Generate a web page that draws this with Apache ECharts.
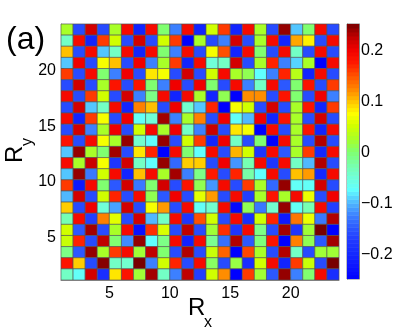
<!DOCTYPE html>
<html><head><meta charset="utf-8">
<style>html,body{margin:0;padding:0;background:#fff}#c{width:407px;height:332px}</style>
<script src="https://cdn.jsdelivr.net/npm/echarts@6/dist/echarts.min.js"></script>
</head><body><div id="c"></div>
<script>
// Rows of the map, top (Ry = 23..24) to bottom (Ry = 1..2)
const row23=[.025,-.16,.215,-.16,.025,.19,-.205,.19,0,-.125,.19,-.205,.05,.16,-.205,.19,.025,-.16,.24,-.095,0,.19,-.16];
const row22=[-.04,.19,-.205,.16,.05,-.16,.215,-.16,.05,.16,-.25,.025,-.16,-.125,.215,-.16,.025,.19,-.205,.11,.08,-.16,.19];
const row21=[.1,-.16,.19,-.095,-.04,.19,-.205,.19,0,-.125,.19,-.16,.07,.15,-.205,.19,0,-.16,.19,-.04,-.16,.19,-.16];
const row20=[-.095,.2,-.16,.07,.1,-.16,.2,-.125,.025,.16,-.205,.19,-.05,-.04,.215,-.16,.025,.17,-.125,-.09,.025,-.25,.19];
const row19=[.16,-.16,.19,0,-.125,.2,-.16,.085,.07,-.16,.215,-.16,.05,.19,.025,.01,-.075,-.125,.17,.035,-.205,.19,-.16];
const row18=[-.16,.215,-.16,.025,.18,-.16,.18,0,-.125,.2,-.16,.2,0,-.16,.19,-.125,-.04,.19,-.15,0,.18,-.16,.16];
const row17=[.19,-.16,.16,.05,-.16,.215,-.125,-.01,.19,-.205,.19,.025,-.205,.01,-.25,.12,.12,-.16,.18,0,-.16,.2,-.125];
const row16=[-.16,.215,-.095,-.04,.19,-.205,.125,.1,-.16,.2,-.045,-.095,.17,-.25,.07,.05,-.16,.215,-.16,.025,.18,-.205,.16];
const row15=[.19,-.205,.16,.07,-.16,.2,-.07,-.05,.235,-.125,.025,.125,-.16,.2,-.07,-.1,.2,-.205,.18,.025,-.16,.215,-.16];
const row14=[-.16,.215,-.125,.025,.2,-.16,.05,.19,.025,.2,-.04,-.125,.22,-.16,.085,.07,-.25,.19,-.16,.025,.18,-.205,.19];
const row13=[.18,-.16,.19,.07,.025,.24,-.045,-.075,.24,-.16,.05,.16,-.205,.2,-.04,-.16,0,-.25,.19,.025,-.16,.23,-.16];
const row12=[-.095,.24,.025,0,.235,-.16,.085,.17,-.25,.19,0,-.075,.19,-.16,.105,.05,-.18,.19,-.15,.025,.16,-.2,.19];
const row11=[.19,.025,.22,.07,-.18,.215,-.04,-.075,.24,-.14,.095,.095,-.16,.2,-.115,-.03,.19,-.18,.19,-.04,-.1,.23,-.16];
const row10=[-.095,.24,-.13,.05,.19,-.205,.1,.19,.025,.235,-.125,-.01,.175,-.16,.17,-.025,-.075,.19,-.16,.1,.115,-.2,.19];
const row09=[.16,-.22,.19,0,-.15,.215,-.13,0,.215,-.16,.18,.01,-.115,.19,-.16,.16,.025,-.14,.24,-.07,-.07,.215,-.16];
const row08=[-.1,.215,-.16,.05,.17,-.16,.19,.01,-.15,.2,-.16,.06,.115,-.16,.19,-.17,.025,.18,.025,.19,.065,-.16,.2];
const row07=[.095,-.16,.2,-.05,-.11,.215,-.16,.07,.115,-.16,.19,-.07,-.045,.19,-.24,.01,-.13,-.045,.24,-.07,-.03,.19,-.17];
const row06=[-.03,.19,-.17,.125,.06,-.16,.215,-.1,-.04,.19,-.18,.15,.05,-.16,.19,-.19,.05,.17,-.22,.13,.065,-.13,.23];
const row05=[.05,-.15,.235,-.16,.025,.19,-.23,.165,.055,-.16,.225,-.16,.02,.165,-.18,.19,-.01,-.16,.235,-.18,.02,.25,-.25];
const row04=[.045,.17,-.16,.225,0,-.12,.24,-.075,-.01,.19,-.21,.19,-.015,-.135,.23,-.15,-.005,.18,-.25,.125,.01,-.15,.235];
const row03=[-.01,-.15,.24,.025,.16,.19,.02,.225,0,-.16,.23,-.16,.045,.14,-.25,.155,.025,-.16,.23,-.04,-.16,.02,.02];
const row02=[.18,.095,-.16,.245,-.04,-.045,.25,-.125,.05,.17,-.16,.19,.005,-.16,.015,-.19,.05,.19,-.205,.16,.045,-.16,.25];
const row01=[-.04,-.07,.215,-.19,.085,.18,.02,.235,-.04,-.125,.225,-.17,.05,.12,-.25,.16,.02,-.15,.24,-.125,0,.19,-.19];
const rowsTopDown=[row23,row22,row21,row20,row19,row18,row17,row16,row15,row14,row13,row12,row11,row10,row09,row08,row07,row06,row05,row04,row03,row02,row01];
const xTicks=[5,10,15,20];
const yTicks=[5,10,15,20];
const barTicks=[-0.2,-0.1,0,0.1,0.2];
const colourStops=['#0000ff','#0c14ff','#1428ff','#2038ff','#2c58ff','#3c80ff','#50b8ff','#60ffff','#70ffd8','#78ffa8','#80ff70','#a8ff28','#d0ff00','#ffff00','#ffc000','#ff8000','#ff5000','#ff1800','#f00000','#c00000','#780000'];
const vMin=-0.25,vMax=0.25,barLevels=64;

const cells=[];
rowsTopDown.forEach((row,r)=>row.forEach((v,c)=>cells.push([c+1,23-r,v])));
const step=(vMax-vMin)/barLevels;
const levels=[];
for(let i=0;i<barLevels;i++){const m=vMin+(i+.5)*step;levels.push([0,m,m]);}

const grey='#808080';
const font='"Liberation Sans",Arial,sans-serif';
const lab={fontFamily:font,fontSize:16,color:'#000'};
const fmt=v=>String(+(+v).toFixed(2)).replace('-','\u2212');

function cellItem(params,api){
  const p0=api.coord([api.value(0),api.value(1)]);
  const p1=api.coord([api.value(0)+1,api.value(1)+1]);
  return {type:'rect',shape:{x:p0[0],y:p1[1],width:p1[0]-p0[0],height:p0[1]-p1[1]},
    style:{fill:api.visual('color'),stroke:'rgba(80,80,80,0.6)',lineWidth:1}};
}
function barItem(params,api){
  const v=api.value(1);
  const p0=api.coord([0,v-step/2]);
  const p1=api.coord([1,v+step/2]);
  return {type:'rect',shape:{x:p0[0],y:p1[1],width:p1[0]-p0[0],height:p0[1]-p1[1]+0.5},
    style:{fill:api.visual('color')}};
}
const chart=echarts.init(document.getElementById('c'),null,{renderer:'canvas'});
chart.setOption({
  animation:false,
  backgroundColor:'#fff',
  grid:[
    {left:61,top:24,width:278,height:256,show:true,borderColor:grey,borderWidth:1,backgroundColor:'transparent'},
    {left:347,top:24,width:12,height:255,show:true,borderColor:grey,borderWidth:1,backgroundColor:'transparent'}
  ],
  visualMap:{show:false,min:vMin,max:vMax,dimension:2,seriesIndex:[0,1],inRange:{color:colourStops}},
  xAxis:[
    {gridIndex:0,type:'value',min:1,max:24,splitLine:{show:false},
      axisLine:{show:true,onZero:false,lineStyle:{color:grey}},
      axisTick:{show:true,inside:true,length:3,customValues:xTicks,lineStyle:{color:grey}},
      axisLabel:{...lab,margin:6,customValues:xTicks}},
    {gridIndex:1,type:'value',min:0,max:1,show:false}
  ],
  yAxis:[
    {gridIndex:0,type:'value',min:1,max:24,splitLine:{show:false},
      axisLine:{show:true,onZero:false,lineStyle:{color:grey}},
      axisTick:{show:true,inside:true,length:3,customValues:yTicks,lineStyle:{color:grey}},
      axisLabel:{...lab,margin:5,verticalAlign:'top',lineHeight:4,customValues:yTicks}},
    {gridIndex:1,type:'value',position:'right',min:vMin,max:vMax,splitLine:{show:false},
      axisLine:{show:true,onZero:false,lineStyle:{color:grey}},
      axisTick:{show:true,inside:true,length:2,customValues:barTicks,lineStyle:{color:'#555'}},
      axisLabel:{...lab,margin:2,verticalAlign:'top',lineHeight:3,customValues:barTicks,formatter:fmt}},
    {gridIndex:1,type:'value',position:'left',min:vMin,max:vMax,splitLine:{show:false},
      axisLine:{show:true,onZero:false,lineStyle:{color:grey}},
      axisTick:{show:true,inside:true,length:2,customValues:barTicks,lineStyle:{color:'#555'}},
      axisLabel:{show:false}}
  ],
  series:[
    {type:'custom',xAxisIndex:0,yAxisIndex:0,data:cells,renderItem:cellItem,clip:true,encode:{x:0,y:1}},
    {type:'custom',xAxisIndex:1,yAxisIndex:1,data:levels,renderItem:barItem,clip:true,encode:{x:0,y:1}}
  ],
  graphic:[
    {type:'text',x:6,y:24,style:{text:'(a)',font:'32px '+font,fill:'#000'}},
    {type:'text',x:188,y:296,style:{text:'R',font:'24px '+font,fill:'#000'}},
    {type:'text',x:204,y:315,style:{text:'x',font:'16px '+font,fill:'#000'}},
    {type:'text',x:3,y:163,rotation:Math.PI/2,style:{text:'R',font:'24px '+font,fill:'#000'}},
    {type:'text',x:20,y:146,rotation:Math.PI/2,style:{text:'y',font:'16px '+font,fill:'#000'}}
  ]
});
</script></body></html>
